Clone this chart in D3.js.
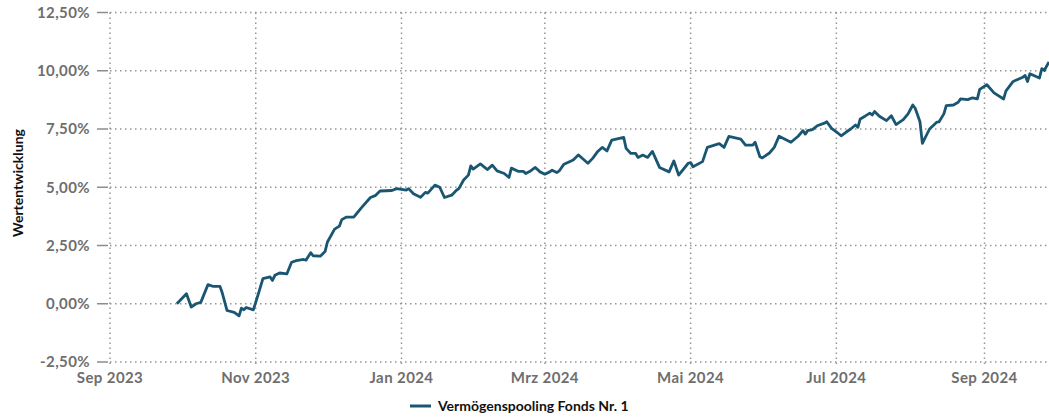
<!DOCTYPE html>
<html lang="de">
<head>
<meta charset="UTF-8">
<title>Wertentwicklung</title>
<style>
  body { margin: 0; background: #ffffff; }
  svg { display: block; font-family: Lato, "Open Sans", sans-serif; }
  .grid line { stroke: #959595; stroke-width: 1.5; stroke-dasharray: 1.5,3.5; }
  .tick-label { fill: #6e6e6e; font-size: 15px; font-weight: bold; letter-spacing: 0.4px; }
  .title { fill: #111; font-size: 14px; font-weight: bold; }
</style>
</head>
<body>
<svg id="chart" width="1049" height="420"></svg>
<script src="https://cdn.jsdelivr.net/npm/d3@7/dist/d3.min.js"></script>
<script>
// series: Vermögenspooling Fonds Nr. 1, cumulative performance in %
var dates = [
  '2023-09-29','2023-10-03','2023-10-05','2023-10-07','2023-10-09','2023-10-12','2023-10-14','2023-10-17',
  '2023-10-18','2023-10-20','2023-10-23','2023-10-25','2023-10-26','2023-10-27','2023-10-28','2023-10-31',
  '2023-11-02','2023-11-04','2023-11-07','2023-11-08','2023-11-09','2023-11-11','2023-11-14','2023-11-16',
  '2023-11-18','2023-11-21','2023-11-22','2023-11-24','2023-11-25','2023-11-28','2023-11-30','2023-12-01',
  '2023-12-04','2023-12-06','2023-12-07','2023-12-09','2023-12-12','2023-12-13','2023-12-15','2023-12-19',
  '2023-12-21','2023-12-23','2023-12-28','2023-12-30','2024-01-03','2024-01-04','2024-01-06','2024-01-09',
  '2024-01-11','2024-01-12','2024-01-15','2024-01-17','2024-01-19','2024-01-22','2024-01-24','2024-01-25',
  '2024-01-27','2024-01-29','2024-01-30','2024-01-31','2024-02-03','2024-02-06','2024-02-08','2024-02-10',
  '2024-02-13','2024-02-15','2024-02-16','2024-02-19','2024-02-21','2024-02-22','2024-02-24','2024-02-26',
  '2024-02-28','2024-03-01','2024-03-03','2024-03-04','2024-03-06','2024-03-07','2024-03-09','2024-03-12',
  '2024-03-13','2024-03-15','2024-03-17','2024-03-19','2024-03-21','2024-03-23','2024-03-25','2024-03-27',
  '2024-03-29','2024-04-03','2024-04-04','2024-04-06','2024-04-08','2024-04-09','2024-04-11','2024-04-13',
  '2024-04-15','2024-04-18','2024-04-22','2024-04-24','2024-04-26','2024-04-30','2024-05-01','2024-05-02',
  '2024-05-06','2024-05-08','2024-05-13','2024-05-15','2024-05-17','2024-05-22','2024-05-24','2024-05-27',
  '2024-05-28','2024-05-30','2024-05-31','2024-06-03','2024-06-05','2024-06-07','2024-06-12','2024-06-15',
  '2024-06-17','2024-06-18','2024-06-19','2024-06-21','2024-06-23','2024-06-26','2024-06-27','2024-06-29',
  '2024-07-01','2024-07-03','2024-07-05','2024-07-07','2024-07-09','2024-07-10','2024-07-11','2024-07-13',
  '2024-07-15','2024-07-16','2024-07-17','2024-07-19','2024-07-22','2024-07-24','2024-07-26','2024-07-29',
  '2024-07-31','2024-08-02','2024-08-03','2024-08-05','2024-08-06','2024-08-09','2024-08-12','2024-08-13',
  '2024-08-15','2024-08-16','2024-08-19','2024-08-21','2024-08-22','2024-08-25','2024-08-27','2024-08-29',
  '2024-08-30','2024-09-02','2024-09-05','2024-09-09','2024-09-10','2024-09-13','2024-09-17','2024-09-18',
  '2024-09-19','2024-09-20','2024-09-24','2024-09-25','2024-09-26','2024-09-28'
];
var values = [
  0.00, 0.43, -0.14, 0.00, 0.06, 0.82, 0.75, 0.75,
  0.46, -0.29, -0.37, -0.52, -0.19, -0.26, -0.16, -0.26,
  0.39, 1.08, 1.15, 1.00, 1.22, 1.32, 1.28, 1.78,
  1.85, 1.90, 1.87, 2.19, 2.06, 2.04, 2.24, 2.65,
  3.20, 3.33, 3.61, 3.72, 3.72, 3.84, 4.09, 4.56,
  4.64, 4.84, 4.86, 4.94, 4.88, 4.94, 4.72, 4.57,
  4.78, 4.75, 5.09, 5.00, 4.56, 4.66, 4.87, 4.94,
  5.31, 5.52, 5.92, 5.78, 6.00, 5.76, 5.95, 5.70,
  5.59, 5.42, 5.82, 5.68, 5.68, 5.59, 5.70, 5.85,
  5.66, 5.56, 5.66, 5.73, 5.63, 5.70, 5.99, 6.13,
  6.18, 6.39, 6.21, 6.03, 6.24, 6.52, 6.71, 6.56,
  7.02, 7.14, 6.67, 6.45, 6.45, 6.28, 6.38, 6.28,
  6.54, 5.85, 5.66, 6.13, 5.52, 6.03, 6.06, 5.88,
  6.10, 6.71, 6.87, 6.71, 7.18, 7.07, 6.81, 6.81,
  6.93, 6.31, 6.26, 6.47, 6.71, 7.19, 6.93, 7.19,
  7.43, 7.28, 7.43, 7.47, 7.64, 7.75, 7.81, 7.53,
  7.38, 7.21, 7.36, 7.50, 7.67, 7.57, 7.93, 8.05,
  8.18, 8.10, 8.25, 8.05, 7.86, 8.07, 7.69, 7.90,
  8.15, 8.53, 8.39, 7.81, 6.88, 7.50, 7.79, 7.81,
  8.15, 8.50, 8.53, 8.65, 8.79, 8.76, 8.84, 8.79,
  9.20, 9.40, 9.05, 8.79, 9.14, 9.54, 9.72, 9.80,
  9.54, 9.87, 9.69, 10.09, 10.01, 10.38
];
var yTicks = [-2.5, 0, 2.5, 5, 7.5, 10, 12.5];
var xTickDates = ['2023-09-01','2023-11-01','2024-01-01','2024-03-01','2024-05-01','2024-07-01','2024-09-01'];
var xTickLabels = ['Sep 2023','Nov 2023','Jan 2024','Mrz 2024','Mai 2024','Jul 2024','Sep 2024'];
var seriesName = 'Vermögenspooling Fonds Nr. 1';

var parse = d3.timeParse('%Y-%m-%d');
var data = dates.map(function(d, i) { return { date: parse(d), value: values[i] }; });

var plotLeft = 110, plotRight = 1049, plotTop = 12.5, plotBottom = 362;
var lineColor = '#1a5672';

var svg = d3.select('#chart');

var x = d3.scaleTime()
  .domain([parse('2023-09-01'), parse('2024-09-28')])
  .range([plotLeft, plotRight]);

var y = d3.scaleLinear()
  .domain([-2.5, 12.5])
  .range([plotBottom, plotTop]);

var pct = function(v) { return v.toFixed(2).replace('.', ',') + '%'; };

// horizontal grid
svg.append('g').attr('class', 'grid')
  .selectAll('line').data(yTicks).enter().append('line')
  .attr('x1', plotLeft).attr('x2', plotRight)
  .attr('y1', function(d) { return y(d); })
  .attr('y2', function(d) { return y(d); });

// vertical grid
svg.append('g').attr('class', 'grid')
  .selectAll('line').data(xTickDates).enter().append('line')
  .attr('x1', function(d) { return x(parse(d)); })
  .attr('x2', function(d) { return x(parse(d)); })
  .attr('y1', plotTop).attr('y2', plotBottom + 4);

// y axis ticks and labels
var yAxis = svg.append('g');
yAxis.selectAll('line').data(yTicks).enter().append('line')
  .attr('x1', 97).attr('x2', 108)
  .attr('y1', function(d) { return y(d); })
  .attr('y2', function(d) { return y(d); })
  .attr('stroke', '#8c8c8c').attr('stroke-width', 1.5);
yAxis.selectAll('text').data(yTicks).enter().append('text')
  .attr('class', 'tick-label')
  .attr('x', 90)
  .attr('y', function(d) { return y(d); })
  .attr('dy', '0.35em')
  .attr('text-anchor', 'end')
  .text(pct);

// x axis labels
svg.append('g').selectAll('text').data(xTickDates).enter().append('text')
  .attr('class', 'tick-label')
  .attr('x', function(d) { return x(parse(d)); })
  .attr('y', 383)
  .attr('text-anchor', 'middle')
  .text(function(d, i) { return xTickLabels[i]; });

// y title
svg.append('text')
  .attr('class', 'title')
  .attr('transform', 'translate(23,183) rotate(-90)')
  .attr('text-anchor', 'middle')
  .text('Wertentwicklung');

// line
var line = d3.line()
  .x(function(d) { return x(d.date); })
  .y(function(d) { return y(d.value); });

svg.append('path')
  .datum(data)
  .attr('d', line)
  .attr('fill', 'none')
  .attr('stroke', lineColor)
  .attr('stroke-width', 2.8)
  .attr('stroke-linejoin', 'round');

// legend
var legend = svg.append('g').attr('transform', 'translate(410,406)');
legend.append('line')
  .attr('x1', 0).attr('x2', 21)
  .attr('stroke', lineColor).attr('stroke-width', 3);
legend.append('text')
  .attr('class', 'title')
  .attr('x', 28).attr('dy', '0.35em')
  .text(seriesName);
</script>
</body>
</html>
